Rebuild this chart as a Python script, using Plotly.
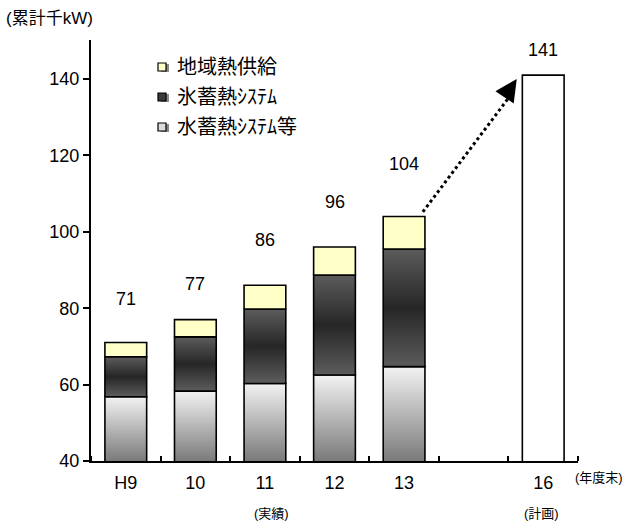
import plotly.graph_objects as go

# ---------------- data ----------------
categories = ["H9", "10", "11", "12", "13", "", "16"]
water_storage = [56.8, 58.3, 60.3, 62.5, 64.7]      # 水蓄熱システム等
ice_storage = [10.5, 14.2, 19.5, 26.2, 30.8]        # 氷蓄熱システム
district_heat = [3.7, 4.5, 6.2, 7.3, 8.5]           # 地域熱供給
totals = [71, 77, 86, 96, 104]
plan_index = 6
plan_total = 141
y_ticks = [40, 60, 80, 100, 120, 140]
legend_names = ["地域熱供給", "氷蓄熱ｼｽﾃﾑ", "水蓄熱ｼｽﾃﾑ等"]

# ---------------- style ----------------
FONT = "Liberation Sans, Arial, Noto Sans CJK JP, sans-serif"
BW = 0.6
Y0 = 40
label_shift = [44, 36, 45, 45, 53, 25]   # pixel offset of value labels above bar tops

fig = go.Figure()


def rect(i, y0, y1):
    xl, xr = i - BW / 2, i + BW / 2
    return [xl, xr, xr, xl, xl], [y0, y0, y1, y1, y0]


def add_seg(i, y0, y1, grad=None, color=None):
    xs, ys = rect(i, y0, y1)
    kw = {}
    if grad is not None:
        kw["fillgradient"] = dict(type="vertical", colorscale=grad,
                                  start=max(y0, Y0), stop=y1)
    else:
        kw["fillcolor"] = color
    fig.add_trace(go.Scatter(x=xs, y=ys, mode="lines", fill="toself",
                             line=dict(color="black", width=1.6),
                             showlegend=False, hoverinfo="skip", **kw))


light_grad = [[0, "#7a7a7a"], [1, "#f2f2f2"]]
dark_grad = [[0, "#5c5c5c"], [0.5, "#262626"], [1, "#5c5c5c"]]

for i in range(len(totals)):
    b0 = 0
    b1 = water_storage[i]
    b2 = b1 + ice_storage[i]
    b3 = b2 + district_heat[i]
    add_seg(i, b0, b1, grad=light_grad)
    add_seg(i, b1, b2, grad=dark_grad)
    add_seg(i, b2, b3, color="#ffffc8")

add_seg(plan_index, 0, plan_total, color="white")

# value labels
all_x = list(range(len(totals))) + [plan_index]
all_v = totals + [plan_total]
for k, (x, v) in enumerate(zip(all_x, all_v)):
    fig.add_annotation(x=x, y=v, text=str(v), showarrow=False, yshift=label_shift[k],
                       font=dict(size=18, color="black", family=FONT))

# dotted trend arrow from last actual to plan
last = len(totals) - 1
fig.add_trace(go.Scatter(x=[last + BW / 2 - 0.03, plan_index - 0.5],
                         y=[totals[last] + 1.2, plan_total - 6],
                         mode="lines", line=dict(color="black", width=3, dash="dot"),
                         showlegend=False, hoverinfo="skip"))
fig.add_annotation(x=plan_index - 0.38, y=plan_total - 1, ax=-8, ay=12,
                   showarrow=True, arrowhead=2, arrowsize=2.2, arrowwidth=2,
                   arrowcolor="black", text="")

# legend (drawn manually)
leg_y = [67, 97, 127]
leg_fill = ["#ffffc8", "#3a3a3a", "#dcdcdc"]
W, H = 627, 522
L, R, T, B = 91, 49, 40, 61
pw, ph = W - L - R, H - T - B
for yy, name, fc in zip(leg_y, legend_names, leg_fill):
    py = (H - B - yy) / ph
    # shadow
    fig.add_shape(type="rect", xref="paper", yref="paper", xsizemode="pixel", ysizemode="pixel",
                  xanchor=(164 - L) / pw, yanchor=py, x0=-3, x1=5, y0=-5, y1=3,
                  fillcolor="#8a8a8a", line=dict(width=0))
    fig.add_shape(type="rect", xref="paper", yref="paper", xsizemode="pixel", ysizemode="pixel",
                  xanchor=(162 - L) / pw, yanchor=py, x0=-4, x1=4, y0=-4, y1=4,
                  fillcolor=fc, line=dict(color="black", width=1.2))
    fig.add_annotation(xref="paper", yref="paper", x=(175 - L) / pw, y=py, xanchor="left",
                       yanchor="middle", text=name, showarrow=False,
                       font=dict(size=20, color="black", family=FONT))

# side texts
fig.add_annotation(xref="paper", yref="paper", x=(4 - L) / pw, y=(H - B - 18) / ph,
                   xanchor="left", yanchor="middle", text="(累計千kW)", showarrow=False,
                   font=dict(size=17, color="black", family=FONT))
fig.add_annotation(xref="paper", yref="paper", x=(625 - L) / pw, y=(H - B - 478) / ph,
                   xanchor="right", yanchor="middle", text="(年度末)", showarrow=False,
                   font=dict(size=13, color="black", family=FONT))
fig.add_annotation(xref="x", yref="paper", x=2.1, y=(H - B - 513) / ph,
                   xanchor="center", yanchor="middle", text="(実績)", showarrow=False,
                   font=dict(size=13, color="black", family=FONT))
fig.add_annotation(xref="x", yref="paper", x=plan_index - 0.03, y=(H - B - 513) / ph,
                   xanchor="center", yanchor="middle", text="(計画)", showarrow=False,
                   font=dict(size=13, color="black", family=FONT))

fig.update_layout(
    width=W, height=H,
    margin=dict(l=L, r=R, t=T, b=B),
    paper_bgcolor="white", plot_bgcolor="white",
    showlegend=False,
    font=dict(family=FONT, size=18, color="black"),
    xaxis=dict(range=[-0.5, 6.5], tickvals=list(range(len(categories))), ticktext=categories,
               ticks="", showgrid=False, zeroline=False, showline=True,
               linecolor="black", linewidth=2, tickfont=dict(size=18),
               ticklabelstandoff=4,
               minor=dict(tick0=0.5, dtick=1, ticks="inside", ticklen=5,
                          tickcolor="black", tickwidth=1.5, showgrid=False)),
    yaxis=dict(range=[Y0, 150.2], tickvals=y_ticks, ticks="outside", ticklen=6,
               tickwidth=1.5, tickcolor="black", showgrid=False, zeroline=False,
               showline=True, linecolor="black", linewidth=2, tickfont=dict(size=18)),
)

fig.write_html("out.html")
